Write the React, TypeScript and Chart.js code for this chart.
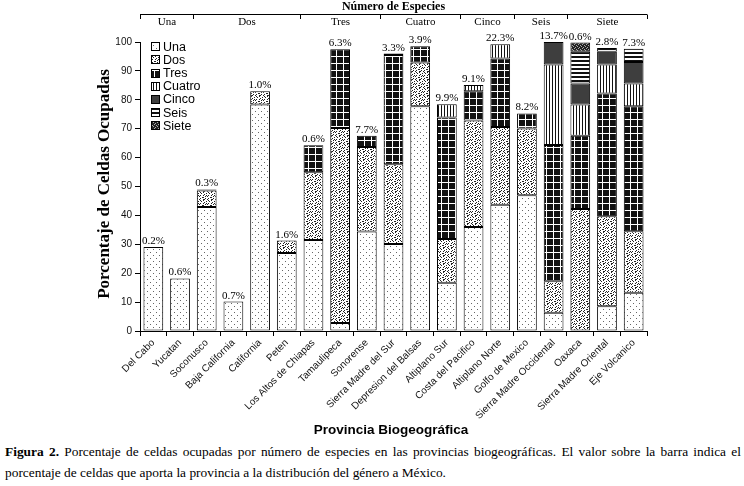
import React, { useEffect, useRef } from 'react';
import { Chart, registerables } from 'chart.js';
Chart.register(...registerables);

const provinces = ['Del Cabo', 'Yucatan', 'Soconusco', 'Baja California', 'California', 'Peten', 'Los Altos de Chiapas', 'Tamaulipeca', 'Sonorense', 'Sierra Madre del Sur', 'Depresion del Balsas', 'Altiplano Sur', 'Costa del Pacifico', 'Altiplano Norte', 'Golfo de Mexico', 'Sierra Madre Occidental', 'Oaxaca', 'Sierra Madre Oriental', 'Eje Volcanico'];

const seriesNames = ['Una', 'Dos', 'Tres', 'Cuatro', 'Cinco', 'Seis', 'Siete'];
const una = [29.1, 18.2, 42.9, 10.2, 78.4, 27.0, 31.5, 2.8, 34.4, 30.1, 77.8, 16.7, 36.0, 43.7, 47.0, 6.3, null, 8.6, 13.2];
const dos = [null, null, 5.7, null, 4.6, 4.3, 23.4, 67.4, 29.3, 27.6, 15.1, 15.1, 36.8, 26.9, 23.1, 10.9, 42.2, 31.1, 21.3];
const tres = [null, null, 0.4, null, null, null, 9.4, 27.3, 3.9, 37.8, 5.6, 42.1, 10.2, 23.7, 5.2, 47.2, 25.4, 42.5, 43.3];
const cuatro = [null, null, null, null, null, null, null, null, null, 0.5, null, 4.6, 2.1, 4.9, null, 27.8, 10.8, 10.0, 7.8];
const cinco = [null, null, null, null, null, null, null, null, null, null, null, null, null, null, null, 7.8, 7.2, 4.4, 7.5];
const seis = [null, null, null, null, null, null, null, null, null, null, null, null, null, null, null, null, 11.0, 1.3, 4.6];
const siete = [null, null, null, null, null, null, null, null, null, null, null, null, null, null, null, null, 3.2, null, null];

const pctLabels = ['0.2%', '0.6%', '0.3%', '0.7%', '1.0%', '1.6%', '0.6%', '6.3%', '7.7%', '3.3%', '3.9%', '9.9%', '9.1%', '22.3%', '8.2%', '13.7%', '0.6%', '2.8%', '7.3%'];

const groupNames = ['Una', 'Dos', 'Tres', 'Cuatro', 'Cinco', 'Seis', 'Siete'];
const groupSizes = [2, 4, 3, 3, 2, 2, 3];

const yTicks = [0, 10, 20, 30, 40, 50, 60, 70, 80, 90, 100];

function bitmapPattern(ctx: CanvasRenderingContext2D, rows: string[], on: string, off: string) {
  const h = rows.length, w = rows[0].length;
  const c = document.createElement('canvas');
  c.width = w; c.height = h;
  const g = c.getContext('2d')!;
  g.fillStyle = off; g.fillRect(0, 0, w, h);
  g.fillStyle = on;
  for (let y = 0; y < h; y++) for (let x = 0; x < w; x++) if (rows[y][x] === '1') g.fillRect(x, y, 1, 1);
  return ctx.createPattern(c, 'repeat')!;
}

function makePatterns(ctx: CanvasRenderingContext2D) {
  const unaP = bitmapPattern(ctx, ['100000', '000000', '000000', '000100', '000000', '000000'], '#666', '#fff');
  const dosP = bitmapPattern(ctx, ['10010000', '01000010', '00001000', '10010010', '00000101', '00110000', '10000100', '00011001'], '#222', '#fff');
  const tresP = bitmapPattern(ctx, ['1111111', '1000000', '1000000', '1000000', '1000000', '1000000', '1000000'], '#fff', '#111');
  const cuatroP = bitmapPattern(ctx, ['100', '100', '100'], '#111', '#fff');
  const cincoP = '#3e3e3e';
  const seisP = bitmapPattern(ctx, ['1111', '1111', '0000', '0000'], '#111', '#fff');
  const sieteP = bitmapPattern(ctx, ['1101', '0111', '1011', '1110'], '#222', '#aaa');
  return [unaP, dosP, tresP, cuatroP, cincoP, seisP, sieteP];
}

export default function App() {
  const ref = useRef<HTMLCanvasElement>(null);
  useEffect(() => {
    const canvas = ref.current!;
    const ctx0 = canvas.getContext('2d')!;
    const pats = makePatterns(ctx0);
    const series = [una, dos, tres, cuatro, cinco, seis, siete];

    const overlay = {
      id: 'overlay',
      afterDraw(chart: any) {
        const ctx = chart.ctx as CanvasRenderingContext2D;
        const xs = chart.scales.x, ys = chart.scales.y;
        ctx.save();
        ctx.fillStyle = '#000';
        ctx.strokeStyle = '#000';
        ctx.lineWidth = 1;
        // header
        const left = chart.chartArea.left, right = chart.chartArea.right;
        ctx.font = 'bold 12px "Liberation Serif"';
        ctx.textAlign = 'center';
        ctx.textBaseline = 'middle';
        ctx.fillText('Número de Especies', (left + right) / 2, 6.5);
        ctx.beginPath();
        ctx.moveTo(left, 14.5); ctx.lineTo(right, 14.5);
        ctx.stroke();
        let k = 0;
        ctx.font = '11px "Liberation Serif"';
        const bx = (i: number) => Math.round(xs.getPixelForValue(i - 0.5)) + 0.5;
        ctx.beginPath();
        ctx.moveTo(bx(0), 14.5); ctx.lineTo(bx(0), 19);
        ctx.stroke();
        groupNames.forEach((g, gi) => {
          const a = k, b = k + groupSizes[gi];
          const xa = bx(a), xb = bx(b);
          ctx.beginPath();
          ctx.moveTo(xb, 14.5); ctx.lineTo(xb, 19);
          ctx.stroke();
          ctx.fillText(g, (xa + xb) / 2, 22.5);
          k = b;
        });
        // y title
        ctx.save();
        ctx.translate(105, 184);
        ctx.rotate(-Math.PI / 2);
        ctx.font = 'bold 17px "Liberation Serif"';
        ctx.fillText('Porcentaje de Celdas Ocupadas', 0, 0);
        ctx.restore();
        // x title
        ctx.font = 'bold 13.5px "Liberation Sans"';
        ctx.fillText('Provincia Biogeográfica', 391, 430);
        // percentage labels
        ctx.font = '11px "Liberation Serif"';
        ctx.textBaseline = 'alphabetic';
        provinces.forEach((_, i) => {
          let tot = 0;
          series.forEach(s => { tot += (s[i] as number) || 0; });
          const x = xs.getPixelForValue(i);
          const y = ys.getPixelForValue(tot);
          ctx.fillText(pctLabels[i], x, y - 3);
        });
        // legend
        ctx.font = '12.5px "Liberation Sans"';
        ctx.textAlign = 'left';
        ctx.textBaseline = 'middle';
        seriesNames.forEach((n, i) => {
          const cy = 46.7 + i * 13.17;
          const top = Math.round(cy - 4.5);
          ctx.fillStyle = pats[i] as any;
          ctx.fillRect(151, top, 9, 9);
          ctx.strokeRect(151.5, top + 0.5, 8, 8);
          ctx.fillStyle = '#000';
          ctx.fillText(n, 163, cy + 0.5);
        });
        ctx.restore();
      },
    };

    const chart = new Chart(canvas, {
      type: 'bar',
      data: {
        labels: provinces,
        datasets: series.map((s, i) => ({
          label: seriesNames[i],
          data: s as any,
          backgroundColor: pats[i] as any,
          borderColor: '#000',
          borderWidth: 1,
          borderSkipped: false,
          barPercentage: 0.74,
          categoryPercentage: 1,
        })),
      },
      options: {
        responsive: false,
        animation: false,
        layout: { padding: { left: 0, right: 97, top: 42, bottom: 0 } },
        plugins: { legend: { display: false }, tooltip: { enabled: false } },
        scales: {
          x: {
            stacked: true,
            grid: { display: true, drawOnChartArea: false, drawTicks: true, tickLength: 5, color: '#000', offset: true },
            border: { color: '#000', width: 1 },
            ticks: { minRotation: 45, maxRotation: 45, autoSkip: false, color: '#111', padding: 1, font: { family: '"Liberation Sans"', size: 10 } },
            afterFit: (s: any) => { s.height = 440 - 331; },
          },
          y: {
            stacked: true,
            min: 0,
            max: 100,
            afterBuildTicks: (s: any) => { s.ticks = yTicks.map(v => ({ value: v })); },
            grid: { display: true, drawOnChartArea: false, drawTicks: true, tickLength: 5, color: '#000' },
            border: { color: '#000', width: 1 },
            ticks: { color: '#111', padding: 3, font: { family: '"Liberation Sans"', size: 10 } },
            afterFit: (s: any) => { s.width = 140; },
          },
        },
      },
      plugins: [overlay],
    });
    return () => chart.destroy();
  }, []);

  return (
    <div style={{ position: 'absolute', left: 0, top: 0, width: 744, height: 486, background: '#fff' }}>
      <canvas ref={ref} width={744} height={440} style={{ display: 'block', width: 744, height: 440 }} />
      <div style={{ position: 'absolute', left: 5, top: 441, width: 736, font: '13.4px "Liberation Serif"', lineHeight: '21px', color: '#000' }}>
        <div style={{ textAlign: 'justify', textAlignLast: 'justify', whiteSpace: 'nowrap' }}><b>Figura 2.</b> Porcentaje de celdas ocupadas por número de especies en las provincias biogeográficas. El valor sobre la barra indica el</div>
        <div>porcentaje de celdas que aporta la provincia a la distribución del género a México.</div>
      </div>
    </div>
  );
}
